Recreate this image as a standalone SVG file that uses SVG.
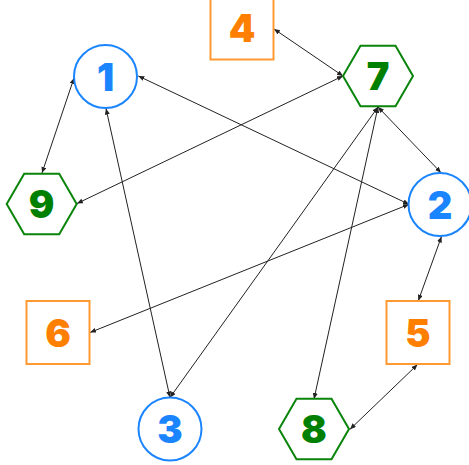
<svg xmlns="http://www.w3.org/2000/svg" width="469" height="465" viewBox="0 0 469 465">
<style>
.e{stroke:#222;stroke-width:1;fill:none;marker-start:url(#a);marker-end:url(#a)}
.c{fill:#fff;stroke:#1a85ff;stroke-width:2}
.s{fill:#fff;stroke:#ff9933;stroke-width:2}
.h{fill:#fff;stroke:#0a840a;stroke-width:2}
.t{font-family:Inter,"Open Sans","DejaVu Sans",sans-serif;font-weight:900;font-size:38px;text-anchor:middle}
.tb{fill:#1a85ff}.to{fill:#ff8000}.tg{fill:#008000}
</style>
<defs>
<marker id="a" markerUnits="userSpaceOnUse" markerWidth="7" markerHeight="6" refX="6" refY="2.5" orient="auto-start-reverse">
<path d="M0,0 L6,2.5 L0,5 z" fill="#222"/>
</marker>
</defs>
<rect width="469" height="465" fill="#fff"/>
<g id="edges">
<line class="e" x1="343" y1="76" x2="274" y2="29"/>
<line class="e" x1="343" y1="76" x2="77" y2="203.5"/>
<line class="e" x1="74" y1="78" x2="42" y2="173"/>
<line class="e" x1="409" y1="204.3" x2="138.3" y2="76"/>
<line class="e" x1="409" y1="204.3" x2="90" y2="332.5"/>
<line class="e" x1="106" y1="108.5" x2="170" y2="397.5"/>
<line class="e" x1="378" y1="107" x2="170" y2="397.5"/>
<line class="e" x1="378" y1="107" x2="314" y2="399"/>
<line class="e" x1="378" y1="107" x2="441" y2="172.7"/>
<line class="e" x1="441.5" y1="236.5" x2="418.3" y2="300.7"/>
<line class="e" x1="417.5" y1="364.5" x2="350" y2="429.3"/>
</g>
<g id="n1"><circle class="c" cx="105.5" cy="76.5" r="31.5"/><text class="t tb" x="105.5" y="90.5">1</text></g>
<g id="n2"><circle class="c" cx="440" cy="204.5" r="31.5"/><text class="t tb" x="440" y="218.5">2</text></g>
<g id="n3"><circle class="c" cx="170" cy="429" r="31.5"/><text class="t tb" x="170" y="443">3</text></g>
<g id="n4"><rect class="s" x="210.5" y="-3.5" width="63" height="63"/><text class="t to" x="242" y="42">4</text></g>
<g id="n5"><rect class="s" x="386.5" y="301" width="63" height="63"/><text class="t to" x="418" y="346.5">5</text></g>
<g id="n6"><rect class="s" x="26.5" y="301" width="63" height="63"/><text class="t to" x="58" y="346.5">6</text></g>
<g id="n7"><polygon class="h" points="413,76 395.5,45.7 360.5,45.7 343,76 360.5,106.3 395.5,106.3"/><text class="t tg" x="378" y="90">7</text></g>
<g id="n8"><polygon class="h" points="349,429 331.5,398.7 296.5,398.7 279,429 296.5,459.3 331.5,459.3"/><text class="t tg" x="314" y="443">8</text></g>
<g id="n9"><polygon class="h" points="76.7,204 59.2,173.7 24.2,173.7 6.7,204 24.2,234.3 59.2,234.3"/><text class="t tg" x="41.7" y="218">9</text></g>
</svg>
